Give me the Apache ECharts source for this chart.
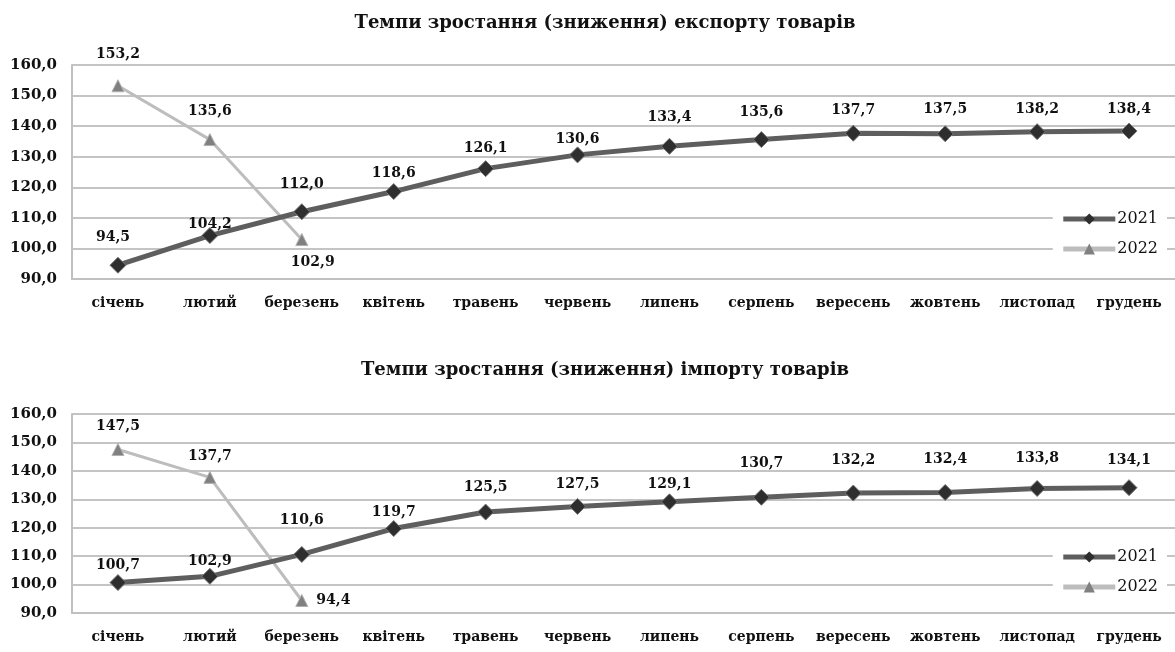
<!DOCTYPE html>
<html>
<head>
<meta charset="utf-8">
<script src="https://cdn.jsdelivr.net/npm/echarts@6/dist/echarts.min.js"></script>
<style>
  html, body { margin: 0; padding: 0; background: #fff; }
  #chart { width: 1175px; height: 652px; }
</style>
</head>
<body>
<div id="chart"></div>
<script>
// місяці
var months = ['січень', 'лютий', 'березень', 'квітень', 'травень', 'червень',
  'липень', 'серпень', 'вересень', 'жовтень', 'листопад', 'грудень'];

// експорт
var export2021 = [94.5, 104.2, 112.0, 118.6, 126.1, 130.6, 133.4, 135.6, 137.7, 137.5, 138.2, 138.4];
var export2022 = [153.2, 135.6, 102.9];

// імпорт
var import2021 = [100.7, 102.9, 110.6, 119.7, 125.5, 127.5, 129.1, 130.7, 132.2, 132.4, 133.8, 134.1];
var import2022 = [147.5, 137.7, 94.4];

var yTicks = [90, 100, 110, 120, 130, 140, 150, 160];

var serif = '"DejaVu Serif", "Liberation Serif", serif';
var fmt = function (v) { return v.toFixed(1).replace('.', ','); };

// точки з підписами; gaps - відступ підпису від маркера (як в оригіналі)
function points(values, gaps, extra) {
  return values.map(function (v, i) {
    var lab = { distance: gaps[i] };
    if (extra && extra[i]) Object.assign(lab, extra[i]);
    return { value: v, label: lab };
  });
}

var labelStyle = {
  show: true,
  position: 'top',
  fontFamily: serif,
  fontWeight: 'bold',
  fontSize: 14,
  color: '#111',
  formatter: function (p) { return fmt(p.value); }
};

function line2021(gi, values, gaps, extra) {
  return {
    name: '2021', type: 'line', xAxisIndex: gi, yAxisIndex: gi,
    data: points(values, gaps, extra),
    symbol: 'diamond', symbolSize: 16,
    lineStyle: { color: '#5e5e5e', width: 5 },
    itemStyle: { color: '#2e2e2e', borderColor: '#777', borderWidth: 1 },
    label: labelStyle,
    z: 3
  };
}
function line2022(gi, values, gaps, extra) {
  return {
    name: '2022', type: 'line', xAxisIndex: gi, yAxisIndex: gi,
    data: points(values, gaps, extra),
    symbol: 'triangle', symbolSize: 12,
    lineStyle: { color: '#bdbdbd', width: 3 },
    itemStyle: { color: '#808080', borderColor: '#b0b0b0', borderWidth: 1 },
    label: labelStyle,
    z: 2
  };
}

var xAxisBase = {
  type: 'category',
  data: months,
  axisLine: { lineStyle: { color: '#c0c0c0', width: 2 } },
  axisTick: { length: 5, lineStyle: { color: '#c0c0c0' } },
  axisLabel: { fontFamily: serif, fontWeight: 'bold', fontSize: 14, color: '#111', margin: 17, interval: 0 }
};
var yAxisBase = {
  type: 'value', min: yTicks[0], max: yTicks[yTicks.length - 1], interval: 10,
  axisLine: { show: true, lineStyle: { color: '#c0c0c0', width: 2 } },
  axisTick: { show: false },
  splitLine: { lineStyle: { color: '#c4c4c4', width: 2 } },
  axisLabel: { fontFamily: serif, fontWeight: 'bold', fontSize: 15, color: '#111', margin: 15, formatter: fmt }
};

function legendAt(top) {
  return {
    orient: 'vertical', right: 8, top: top, itemWidth: 52, itemHeight: 14, itemGap: 14,
    itemStyle: { borderWidth: 0 },
    lineStyle: { width: 5 },
    backgroundColor: '#fff', padding: [2, 9, 2, 8],
    data: [{ name: '2021' }, { name: '2022' }],
    textStyle: { fontFamily: serif, fontSize: 16, color: '#111', padding: [0, 0, 0, -3] }
  };
}

var titleStyle = { fontFamily: serif, fontWeight: 'bold', fontSize: 18, color: '#111' };

var chart = echarts.init(document.getElementById('chart'));
chart.setOption({
  animation: false,
  backgroundColor: '#fff',
  title: [
    { text: 'Темпи зростання (зниження) експорту товарів', left: 600, textAlign: 'center', top: 9, textStyle: titleStyle },
    { text: 'Темпи зростання (зниження) імпорту товарів', left: 600, textAlign: 'center', top: 356, textStyle: titleStyle }
  ],
  grid: [
    { left: 72, width: 1104, top: 65, height: 214 },
    { left: 72, width: 1104, top: 414, height: 199 }
  ],
  legend: [legendAt(209), legendAt(547)],
  xAxis: [
    Object.assign({ gridIndex: 0 }, xAxisBase),
    Object.assign({ gridIndex: 1 }, xAxisBase)
  ],
  yAxis: [
    Object.assign({ gridIndex: 0 }, yAxisBase),
    Object.assign({ gridIndex: 1 }, yAxisBase)
  ],
  series: [
    line2021(0, export2021, [12, -4, 12, 3, 5, 0, 13, 12, 7, 9, 7, 6], { 0: { offset: [-5, 0] } }),
    line2022(0, export2022, [18, 15, 9], { 2: { position: 'bottom', offset: [11, 0] } }),
    line2021(1, import2021, [2, -1, 19, 1, 9, 7, 2, 18, 17, 18, 15, 12]),
    line2022(1, import2022, [10, 8, 8], { 2: { position: 'right' } })
  ]
});
</script>
</body>
</html>
